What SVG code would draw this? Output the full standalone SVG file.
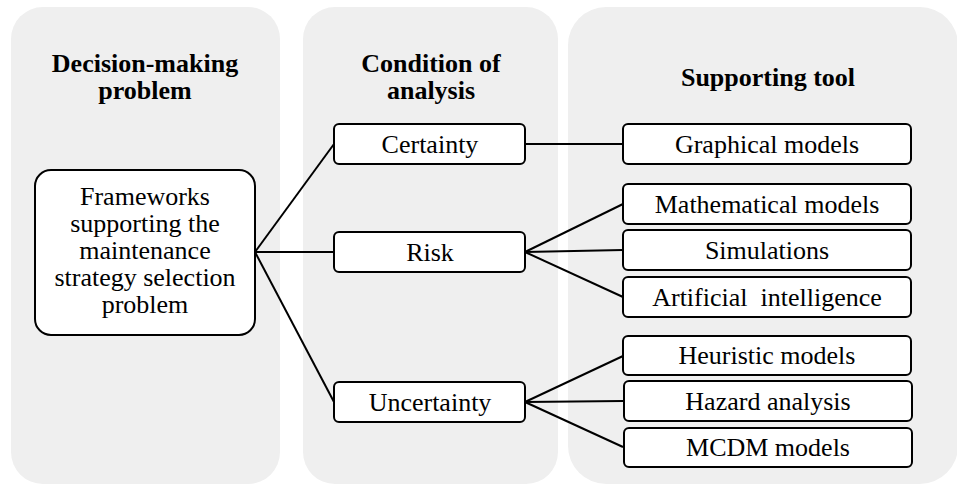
<svg xmlns="http://www.w3.org/2000/svg" width="957" height="485" viewBox="0 0 957 485" font-family="Liberation Serif, Times New Roman, serif" font-size="26">
<style>
.panel{fill:#efefef}
.box{fill:#fff;stroke:#000;stroke-width:2}
.con line{stroke:#000;stroke-width:2}
</style>
<rect width="957" height="485" fill="#fff"/>
<g id="panels">
<rect class="panel" x="11" y="7" width="269" height="477" rx="32"/>
<rect class="panel" x="303" y="7" width="255" height="477" rx="32"/>
<rect class="panel" x="568" y="7" width="390" height="477" rx="38"/>
</g>
<g id="headings" font-weight="bold" text-anchor="middle" font-size="26">
<text x="145" y="72">Decision-making</text>
<text x="145" y="99">problem</text>
<text x="431" y="72">Condition of</text>
<text x="431" y="99">analysis</text>
<text x="768" y="86">Supporting tool</text>
</g>
<g id="connectors" class="con">
<line x1="255" y1="252" x2="334" y2="144"/>
<line x1="255" y1="252" x2="334" y2="252"/>
<line x1="255" y1="252" x2="334" y2="402"/>
<line x1="525" y1="144" x2="623" y2="144"/>
<line x1="525" y1="252" x2="623" y2="204"/>
<line x1="525" y1="252" x2="623" y2="250"/>
<line x1="525" y1="252" x2="623" y2="297"/>
<line x1="525" y1="402" x2="623" y2="356"/>
<line x1="525" y1="402" x2="623" y2="401"/>
<line x1="525" y1="402" x2="623" y2="447"/>
</g>
<g text-anchor="middle">
<g id="frameworks">
<rect class="box" x="35" y="170" width="220" height="165" rx="16"/>
<text x="145" y="205">Frameworks</text>
<text x="145" y="232">supporting the</text>
<text x="145" y="259">maintenance</text>
<text x="145" y="286">strategy selection</text>
<text x="145" y="313">problem</text>
</g>
<g id="certainty">
<rect class="box" x="334" y="124" width="191" height="40" rx="5"/>
<text x="430" y="153">Certainty</text>
</g>
<g id="risk">
<rect class="box" x="334" y="232" width="191" height="40" rx="5"/>
<text x="430" y="261">Risk</text>
</g>
<g id="uncertainty">
<rect class="box" x="334" y="382" width="191" height="40" rx="5"/>
<text x="430" y="411">Uncertainty</text>
</g>
<g id="graphical">
<rect class="box" x="623" y="124" width="288" height="40" rx="5"/>
<text x="767" y="153">Graphical models</text>
</g>
<g id="mathematical">
<rect class="box" x="623" y="184" width="288" height="40" rx="5"/>
<text x="767" y="213">Mathematical models</text>
</g>
<g id="simulations">
<rect class="box" x="623" y="230" width="288" height="40" rx="5"/>
<text x="767" y="259">Simulations</text>
</g>
<g id="ai">
<rect class="box" x="623" y="277" width="288" height="40" rx="5"/>
<text x="767" y="306" xml:space="preserve">Artificial  intelligence</text>
</g>
<g id="heuristic">
<rect class="box" x="623" y="336" width="288" height="39" rx="5"/>
<text x="767" y="364">Heuristic models</text>
</g>
<g id="hazard">
<rect class="box" x="624" y="381" width="288" height="40" rx="5"/>
<text x="768" y="410">Hazard analysis</text>
</g>
<g id="mcdm">
<rect class="box" x="624" y="428" width="288" height="39" rx="5"/>
<text x="768" y="456">MCDM models</text>
</g>
</g>
</svg>
